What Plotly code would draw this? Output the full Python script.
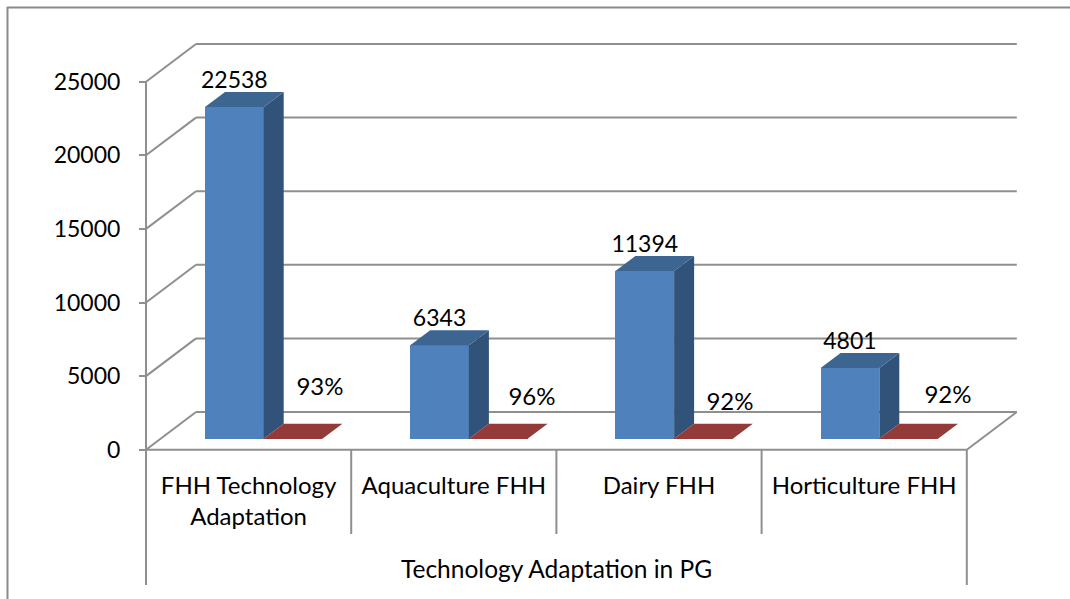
import plotly.graph_objects as go

# ---- data ----
categories = ["FHH Technology<br>Adaptation", "Aquaculture FHH", "Dairy FHH", "Horticulture FHH"]
group_label = "Technology Adaptation in PG"
counts = [22538, 6343, 11394, 4801]
shares = [0.93, 0.96, 0.92, 0.92]
share_labels = ["93%", "96%", "92%", "92%"]
y_ticks = [0, 5000, 10000, 15000, 20000, 25000]

# ---- geometry of the faux 3-D view (pixels) ----
W, H = 1070, 599
X0, Y0 = 146.0, 449.7          # pixel of category 0 / value 0
PX_CAT = 205.2                 # pixels per category
PX_VAL = 368.0 / 25000         # pixels per value unit
WALL_DX, WALL_DY = 50.0, 37.7  # depth of the floor
BAR_DX, BAR_DY = 20.0, 15.0    # depth of a bar
BASE_PX = 11.0                 # bar front sits this far up the floor
BAR_LEFT = 59.0                # first bar's left edge from category start
BAR_W = 58.7

def cx(px):
    return px / PX_CAT
def vy(px):
    return px / PX_VAL

x_range = [-X0 / PX_CAT, (W - X0) / PX_CAT]
y_range = [-(H - Y0) / PX_VAL, Y0 / PX_VAL]

GRID = "#8f8f8f"
BLUE, BLUE_TOP, BLUE_SIDE = "#4f81bd", "#3d6592", "#325379"
RED, RED_TOP = "#953735", "#943a38"
FONT = "Lato"
FS_NUM = 23
FS_TXT = 24

base = vy(BASE_PX)
bar_w = cx(BAR_W)
left = [i + cx(BAR_LEFT) for i in range(len(counts))]
blue_c = [l + bar_w / 2 for l in left]
red_c = [l + bar_w * 1.5 for l in left]
ddx, ddy = cx(BAR_DX), vy(BAR_DY)

fig = go.Figure()

# front faces
fig.add_bar(x=blue_c, y=counts, base=base, width=bar_w, marker=dict(color=BLUE, line_width=0),
            name="Households", showlegend=False, hoverinfo="y")
fig.add_bar(x=red_c, y=shares, base=base, width=bar_w, marker=dict(color=RED, line_width=0),
            name="Share", showlegend=False, hoverinfo="y")

def poly(xs, ys, color):
    fig.add_scatter(x=xs, y=ys, mode="lines", fill="toself", fillcolor=color,
                    line=dict(width=0, color=color), showlegend=False, hoverinfo="skip")

for l, v, s in zip(left, counts, shares):
    t = base + v
    r = l + bar_w
    # blue side and top
    poly([r, r + ddx, r + ddx, r, r], [base, base + ddy, t + ddy, t, base], BLUE_SIDE)
    poly([l, l + ddx, r + ddx, r, l], [t, t + ddy, t + ddy, t, t], BLUE_TOP)
    # red top
    t2 = base + s
    r2 = r + bar_w
    poly([r, r + ddx, r2 + ddx, r2, r], [t2, t2 + ddy, t2 + ddy, t2, t2], RED_TOP)

# value labels
fig.add_scatter(x=[c for c in blue_c],
                y=[base + v + ddy + vy(9.7) for v in counts],
                mode="text", text=[str(v) for v in counts], textposition="middle center",
                textfont=dict(family=FONT, size=FS_NUM, color="#000000"),
                showlegend=False, hoverinfo="skip")
share_label_px = [(320, 389), (532, 399), (730, 404), (948, 397)]
fig.add_scatter(x=[cx(p[0] - X0) for p in share_label_px],
                y=[vy(Y0 - p[1]) for p in share_label_px],
                mode="text", text=share_labels, textposition="middle center",
                textfont=dict(family=FONT, size=FS_TXT, color="#000000"),
                showlegend=False, hoverinfo="skip")

# walls, floor, gridlines, dividers (below the marks)
ax, ay = cx(WALL_DX), vy(WALL_DY)
n = len(categories)
def seg(x0, y0, x1, y1):
    return dict(type="line", xref="x", yref="y", x0=x0, y0=y0, x1=x1, y1=y1,
                line=dict(color=GRID, width=2), layer="below")
shapes = []
for t in y_ticks:
    shapes.append(seg(0, t, ax, t + ay))
    shapes.append(seg(ax, t + ay, n + ax, t + ay))
shapes.append(seg(0, 0, 0, y_ticks[-1]))
shapes.append(seg(0, 0, n, 0))
shapes.append(seg(n, 0, n + ax, ay))
low1, low2 = -vy(534 - Y0), -vy(585 - Y0)
for i in range(1, n):
    shapes.append(seg(i, 0, i, low1))
shapes.append(seg(0, 0, 0, low2))
shapes.append(seg(n, 0, n, low2))
# outer chart border (top and left only)
for a in [(7 / W, 1 - 7.5 / H, 1, 1 - 7.5 / H), (7.5 / W, 1 - 7 / H, 7.5 / W, 0)]:
    shapes.append(dict(type="line", xref="paper", yref="paper", x0=a[0], y0=a[1], x1=a[2], y1=a[3],
                       line=dict(color="#8a8a8a", width=2), layer="below"))

fig.update_layout(
    width=W, height=H, margin=dict(l=0, r=0, t=0, b=0, pad=0),
    paper_bgcolor="#ffffff", plot_bgcolor="#ffffff", showlegend=False, bargap=0,
    font=dict(family=FONT, size=FS_TXT, color="#000000"),
    shapes=shapes,
    xaxis=dict(range=x_range, domain=[0, 1], anchor="free", position=(H - Y0) / H,
               showgrid=False, zeroline=False, showline=False, ticks="",
               tickmode="array", tickvals=[i + 0.5 for i in range(n)], ticktext=categories,
               ticklabelstandoff=19, tickfont=dict(family=FONT, size=FS_TXT, color="#000000")),
    yaxis=dict(range=y_range, domain=[0, 1], anchor="free", position=X0 / W,
               showgrid=False, zeroline=False, showline=False,
               ticks="outside", ticklen=7, tickwidth=2, tickcolor=GRID,
               tickmode="array", tickvals=y_ticks, ticktext=[str(t) for t in y_ticks],
               ticklabelstandoff=14, tickfont=dict(family=FONT, size=FS_NUM, color="#000000")),
    annotations=[dict(text=group_label, xref="x", yref="y", x=n / 2, y=-vy(568 - Y0), showarrow=False,
                      xanchor="center", yanchor="middle", font=dict(family=FONT, size=24.5, color="#000000"))],
)

fig.write_html("out.html", config=dict(displayModeBar=False),
               post_script="document.body.style.margin='0';document.body.style.overflow='hidden';")
